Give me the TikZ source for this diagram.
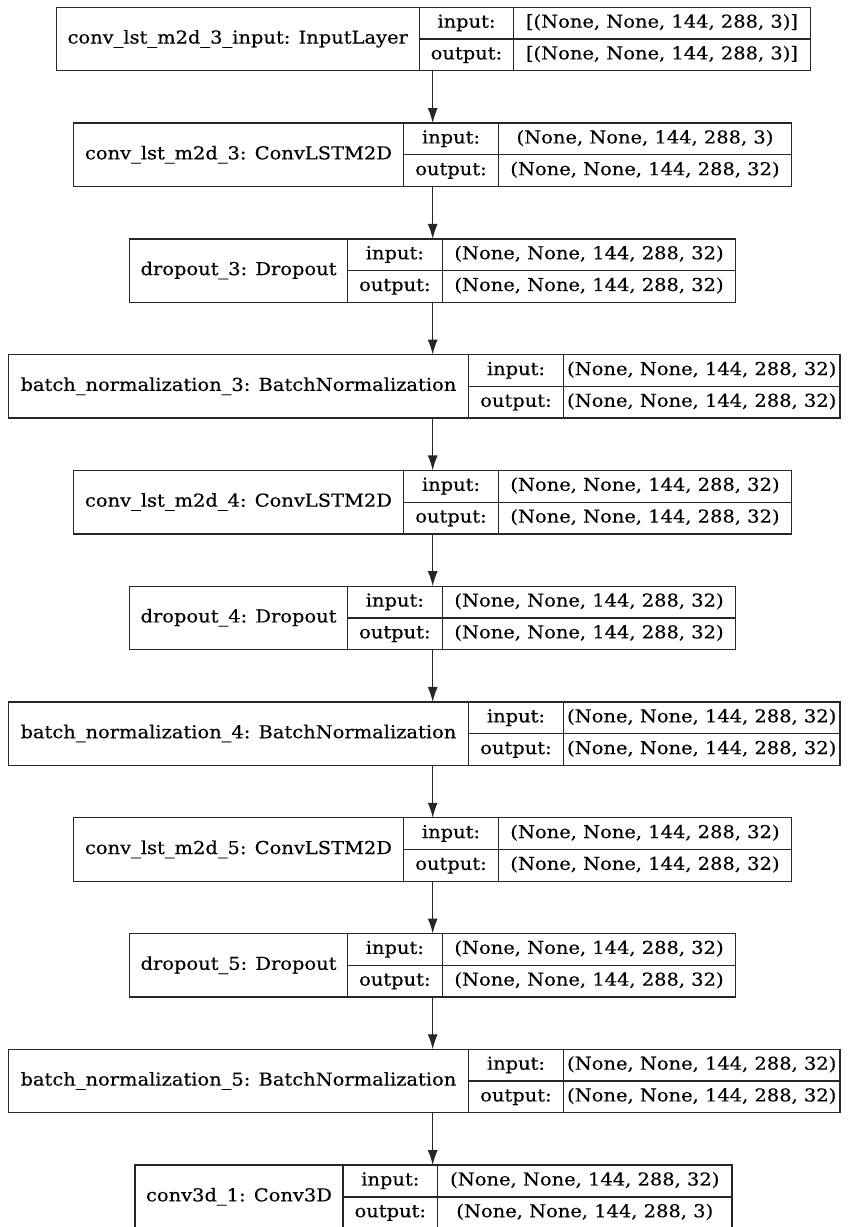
\documentclass[tikz,border=0pt]{standalone}
\usepackage{fontspec}
\setmainfont[FakeBold=0.3]{DejaVu Serif}
\usetikzlibrary{arrows.meta}
\newlength\refw
\newcommand\lfont{\fontsize{17.8}{20}\selectfont}
\newcommand\txt[1]{\scalebox{\fx}[1]{\lfont #1}}
\tikzset{
  layerbox/.style={draw=black!85, line width=1.3pt, minimum height=63.5pt, inner sep=0pt, outer sep=0pt},
  divline/.style={draw=black!85, line width=1.3pt},
  celltext/.style={inner sep=0pt, anchor=center, text height=13pt, text depth=4pt},
  flow/.style={draw=black!85, line width=1.3pt, -{Latex[length=15pt,width=10pt]}}
}
% #1 name, #2 top, #3 L, #4 D1, #5 D2, #6 R, #7 label, #8 input, #9 output
\newcommand\layer[9]{%
  \pgfmathsetmacro\Wd{#6-#3}%
  \pgfmathsetmacro\mY{-#2-31.75}%
  \pgfmathsetmacro\uY{\mY+15.875}%
  \pgfmathsetmacro\lY{\mY-15.875}%
  \pgfmathsetmacro\bY{-#2-63.5}%
  \node[layerbox, minimum width=\Wd pt, anchor=north west] (#1) at (#3,-#2) {};
  \draw[divline] (#4,-#2) -- (#4,\bY);
  \draw[divline] (#5,-#2) -- (#5,\bY);
  \draw[divline] (#4,\mY) -- (#6,\mY);
  \node[celltext] (#1-lab) at ({(#3+#4)/2},\mY) {\txt{#7}};
  \node[celltext] (#1-ik) at ({(#4+#5)/2},\uY) {\txt{input:}};
  \node[celltext] (#1-ok) at ({(#4+#5)/2},\lY) {\txt{output:}};
  \node[celltext] (#1-iv) at ({(#5+#6)/2},\uY) {\txt{#8}};
  \node[celltext] (#1-ov) at ({(#5+#6)/2},\lY) {\txt{#9}};
}
\begin{document}
\settowidth\refw{\lfont [(None, None, 144, 288, 3)]}%
\pgfmathsetmacro\fx{272/\refw}%
\begin{tikzpicture}[x=1pt,y=1pt]
\useasboundingbox[fill=white] (0,0) rectangle (847,-1227);
\coordinate (ax) at (432.7,0);
\layer{l0}{7.3}{56.2}{419.3}{513.6}{810.4}{conv\_lst\_m2d\_3\_input: InputLayer}{[(None, None, 144, 288, 3)]}{[(None, None, 144, 288, 3)]}
\layer{l1}{123.08}{73.5}{403.5}{498.5}{791.5}{conv\_lst\_m2d\_3: ConvLSTM2D}{(None, None, 144, 288, 3)}{(None, None, 144, 288, 32)}
\layer{l2}{238.86}{129.7}{347.4}{442.3}{735.8}{dropout\_3: Dropout}{(None, None, 144, 288, 32)}{(None, None, 144, 288, 32)}
\layer{l3}{354.64}{8.5}{468.4}{563.5}{840}{batch\_normalization\_3: BatchNormalization}{(None, None, 144, 288, 32)}{(None, None, 144, 288, 32)}
\layer{l4}{470.42}{73.5}{403.5}{498.5}{791.5}{conv\_lst\_m2d\_4: ConvLSTM2D}{(None, None, 144, 288, 32)}{(None, None, 144, 288, 32)}
\layer{l5}{586.2}{129.7}{347.4}{442.3}{735.8}{dropout\_4: Dropout}{(None, None, 144, 288, 32)}{(None, None, 144, 288, 32)}
\layer{l6}{701.98}{8.5}{468.4}{563.5}{840}{batch\_normalization\_4: BatchNormalization}{(None, None, 144, 288, 32)}{(None, None, 144, 288, 32)}
\layer{l7}{817.76}{73.5}{403.5}{498.5}{791.5}{conv\_lst\_m2d\_5: ConvLSTM2D}{(None, None, 144, 288, 32)}{(None, None, 144, 288, 32)}
\layer{l8}{933.54}{129.7}{347.4}{442.3}{735.8}{dropout\_5: Dropout}{(None, None, 144, 288, 32)}{(None, None, 144, 288, 32)}
\layer{l9}{1049.32}{8.5}{468.4}{563.5}{840}{batch\_normalization\_5: BatchNormalization}{(None, None, 144, 288, 32)}{(None, None, 144, 288, 32)}
\layer{l10}{1165.1}{135}{343}{437.6}{732}{conv3d\_1: Conv3D}{(None, None, 144, 288, 32)}{(None, None, 144, 288, 3)}
\foreach \a/\b in {l0/l1,l1/l2,l2/l3,l3/l4,l4/l5,l5/l6,l6/l7,l7/l8,l8/l9,l9/l10}{
  \draw[flow] (\a.south -| ax) -- (\b.north -| ax);
}
\end{tikzpicture}
\end{document}
